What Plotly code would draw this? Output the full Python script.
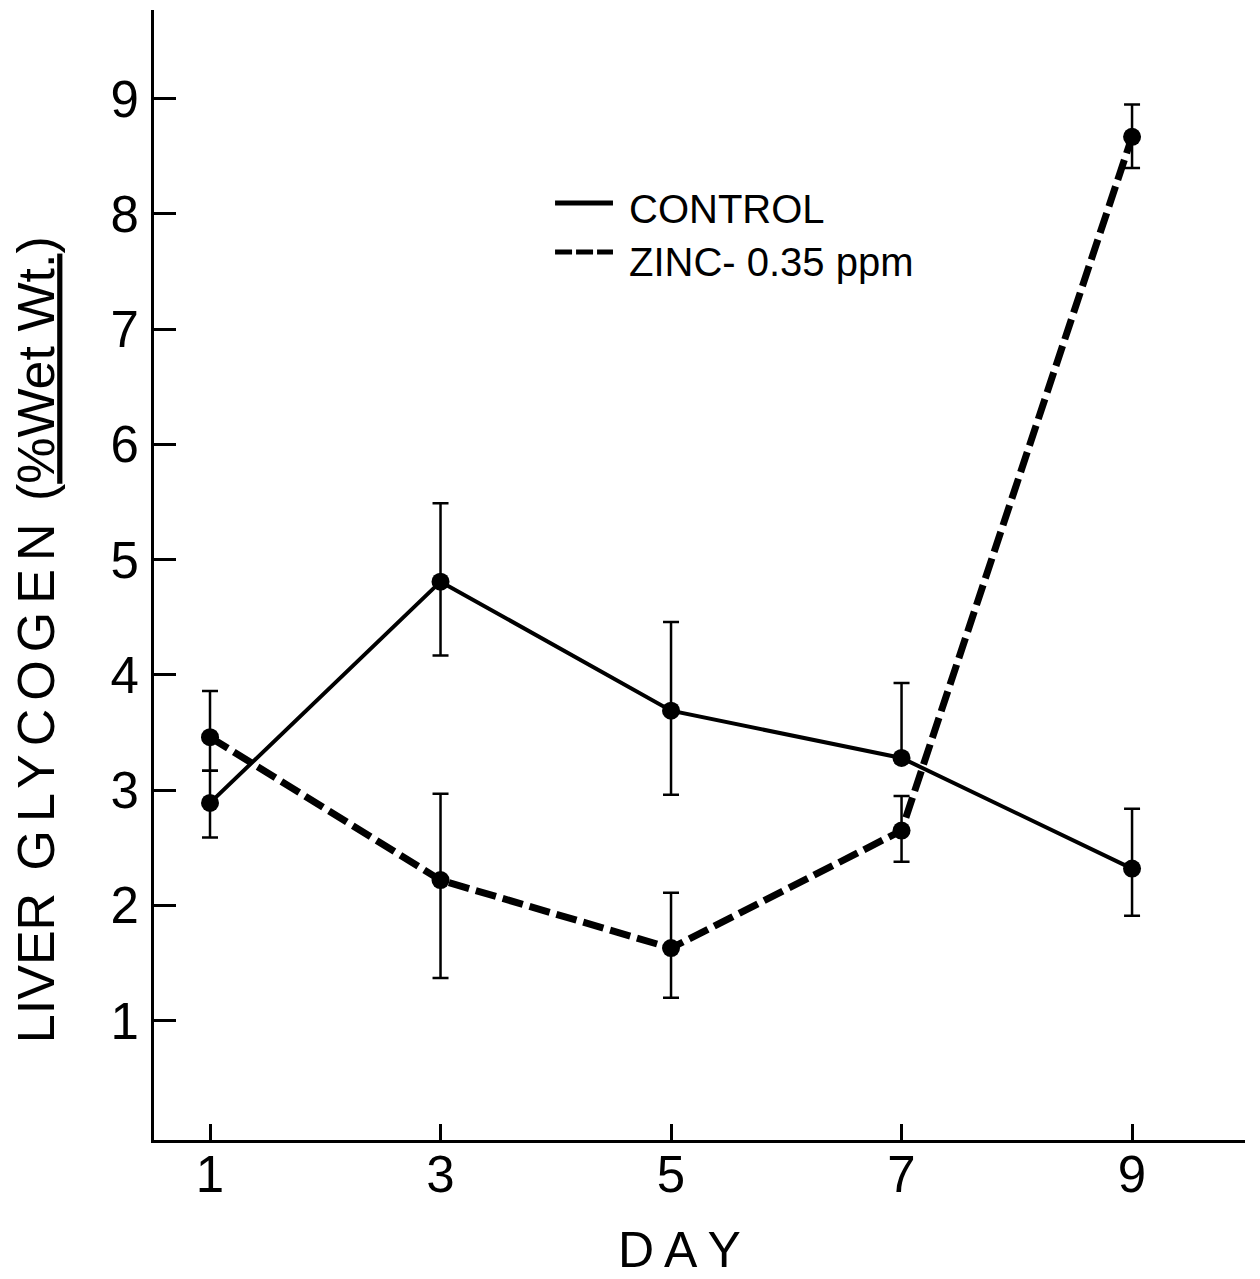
import plotly.graph_objects as go

days = [1, 3, 5, 7, 9]
day_ticks = [1, 3, 5, 7, 9]
y_ticks = [1, 2, 3, 4, 5, 6, 7, 8, 9]

control = [2.89, 4.81, 3.69, 3.28, 2.32]
control_err_plus = [0.28, 0.68, 0.77, 0.65, 0.52]
control_err_minus = [0.30, 0.64, 0.73, 0.0, 0.41]

zinc = [3.46, 2.22, 1.63, 2.65, 8.67]
zinc_err_plus = [0.40, 0.75, 0.48, 0.30, 0.28]
zinc_err_minus = [0.29, 0.85, 0.43, 0.27, 0.27]

series_names = ["CONTROL", "ZINC- 0.35 ppm"]

FONT = "Liberation Sans, Arial, Helvetica, sans-serif"
TS = "\u2009"  # thin space

fig = go.Figure()

fig.add_trace(go.Scatter(
    x=days, y=control, mode="lines+markers", name=series_names[0],
    line=dict(color="black", width=4),
    marker=dict(color="black", size=18),
    error_y=dict(type="data", symmetric=False, array=control_err_plus,
                 arrayminus=control_err_minus, color="black", thickness=2.5, width=8),
    showlegend=False,
))
fig.add_trace(go.Scatter(
    x=days, y=zinc, mode="lines+markers", name=series_names[1],
    line=dict(color="black", width=7, dash="21px,7px"),
    marker=dict(color="black", size=18),
    error_y=dict(type="data", symmetric=False, array=zinc_err_plus,
                 arrayminus=zinc_err_minus, color="black", thickness=2.5, width=8),
    showlegend=False,
))

# hand-drawn legend (line samples + labels), in paper coordinates
legend_shapes = [
    dict(type="line", xref="paper", yref="paper", x0=0.3676, x1=0.4207, y0=0.8292, y1=0.8292,
         line=dict(color="black", width=5)),
    dict(type="line", xref="paper", yref="paper", x0=0.3676, x1=0.4207, y0=0.7858, y1=0.7858,
         line=dict(color="black", width=5, dash="17px,4px")),
]
legend_labels = [
    dict(text=series_names[0], xref="paper", yref="paper", x=0.4335, y=0.8235,
         xanchor="left", yanchor="middle", showarrow=False,
         font=dict(size=40, family=FONT, color="black")),
    dict(text=series_names[1], xref="paper", yref="paper", x=0.4335, y=0.777,
         xanchor="left", yanchor="middle", showarrow=False,
         font=dict(size=40, family=FONT, color="black")),
]

ytitle = ('LIVER<span style="letter-spacing:8px">\u00a0GLYCOGEN</span>'
          '\u00a0(<u>%Wet Wt.</u>)')
xtitle = TS.join("DAY")

fig.update_layout(
    width=1252, height=1271,
    margin=dict(l=146, r=15, t=2, b=139),
    plot_bgcolor="white", paper_bgcolor="white",
    font=dict(family=FONT, color="black"),
    showlegend=False,
    xaxis=dict(range=[0.514, 9.98], tickvals=day_ticks, ticktext=[str(d) for d in day_ticks],
               ticks="inside", ticklen=16, tickwidth=3, tickcolor="black",
               showline=True, linecolor="black", linewidth=3, showgrid=False, zeroline=False,
               tickfont=dict(size=51, family=FONT), ticklabelstandoff=-12),
    yaxis=dict(range=[-0.035, 9.77], tickvals=y_ticks, ticktext=[str(v) for v in y_ticks],
               ticks="inside", ticklen=22, tickwidth=3, tickcolor="black",
               showline=True, linecolor="black", linewidth=3, showgrid=False, zeroline=False,
               tickfont=dict(size=51, family=FONT), ticklabelstandoff=2),
    shapes=legend_shapes,
    annotations=legend_labels + [
        dict(text=ytitle, textangle=-90,
             xref="paper", yref="paper", x=-0.108, y=0.4425, xanchor="center", yanchor="middle",
             showarrow=False, font=dict(size=52, family=FONT, color="black")),
        dict(text=xtitle, xref="paper", yref="paper", x=0.482, y=-0.0973,
             xanchor="center", yanchor="middle", showarrow=False,
             font=dict(size=50, family=FONT, color="black")),
    ],
)

fig.write_html("out.html")
